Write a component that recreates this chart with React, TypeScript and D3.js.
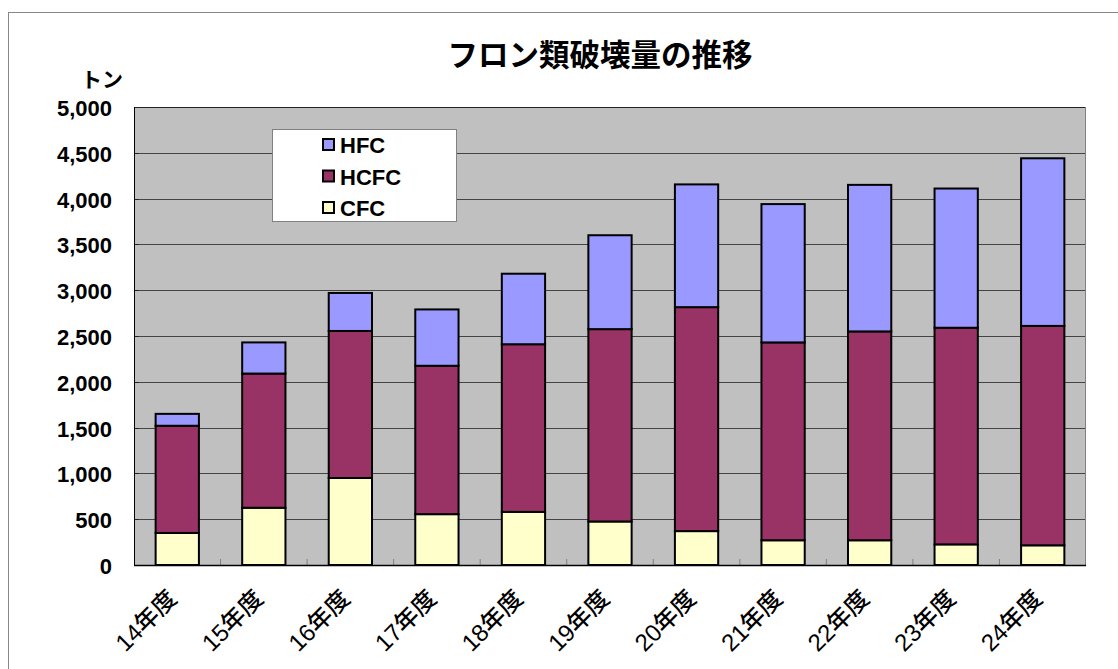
import React from 'react';
import * as d3 from 'd3';

// フロン類破壊量 (トン)
const years = ['14年度', '15年度', '16年度', '17年度', '18年度', '19年度', '20年度', '21年度', '22年度', '23年度', '24年度'];
const cfc = [350, 625, 950, 555, 580, 475, 370, 270, 270, 225, 215];
const hcfc = [1170, 1465, 1605, 1620, 1830, 2100, 2445, 2160, 2280, 2365, 2395];
const hfc = [130, 340, 415, 615, 770, 1025, 1340, 1510, 1600, 1520, 1830];
const seriesNames = ['CFC', 'HCFC', 'HFC'];
const seriesColors = ['#ffffcc', '#993366', '#9999ff'];
const yTicks = [0, 500, 1000, 1500, 2000, 2500, 3000, 3500, 4000, 4500, 5000];

const W = 1118;
const H = 669;
const plot = { left: 134, top: 107, right: 1086, bottom: 565 };
const font = '"Liberation Sans", "Noto Sans CJK JP", sans-serif';

export default function App() {
  const rows = years.map((y, i) => ({ year: y, CFC: cfc[i], HCFC: hcfc[i], HFC: hfc[i] }));
  const stacked = d3.stack<any>().keys(seriesNames)(rows);

  const x = d3.scaleBand().domain(years).range([plot.left, plot.right]).paddingInner(0.5).paddingOuter(0.25);
  const y = d3.scaleLinear().domain([0, 5000]).range([plot.bottom, plot.top]);
  const step = x.step();

  const legendItems = ['HFC', 'HCFC', 'CFC'];

  return (
    <svg width={W} height={H} style={{ position: 'absolute', left: 0, top: 0, display: 'block', background: '#fff' }}>
      {/* chart frame */}
      <rect x={8.5} y={12.5} width={W} height={H} fill="#fff" stroke="#888" strokeWidth={1} />

      <text x={600} y={66} textAnchor="middle" fontFamily={font} fontWeight="bold" fontSize={30.5}>
        フロン類破壊量の推移
      </text>
      <text x={102} y={87} textAnchor="middle" fontFamily={font} fontWeight="bold" fontSize={21}>
        トン
      </text>

      {/* plot area */}
      <rect x={plot.left} y={plot.top} width={plot.right - plot.left} height={plot.bottom - plot.top} fill="#c0c0c0" />
      {yTicks.slice(1, -1).map((t) => (
        <line key={t} x1={plot.left} x2={plot.right} y1={Math.round(y(t)) + 0.5} y2={Math.round(y(t)) + 0.5} stroke="#444" strokeWidth={1} />
      ))}
      <line x1={plot.left} x2={plot.right} y1={plot.top + 0.5} y2={plot.top + 0.5} stroke="#222" strokeWidth={1} />
      <line x1={plot.right - 0.5} x2={plot.right - 0.5} y1={plot.top} y2={plot.bottom} stroke="#808080" strokeWidth={1} />

      {/* y ticks and labels */}
      {yTicks.map((t) => (
        <g key={t}>
          <line x1={plot.left} x2={plot.left + 5} y1={Math.round(y(t)) + 0.5} y2={Math.round(y(t)) + 0.5} stroke="#222" />
          <text x={112} y={y(t) + 1.5} textAnchor="end" dominantBaseline="central" fontFamily={font} fontWeight="bold" fontSize={22}>
            {d3.format(',')(t)}
          </text>
        </g>
      ))}

      {/* x ticks between categories */}
      {years.map((yr, i) => {
        const bx = plot.left + step * (i + 1);
        return i < years.length - 1 ? (
          <line key={yr} x1={bx} x2={bx} y1={plot.bottom} y2={plot.bottom - 6} stroke="#808080" strokeWidth={1} />
        ) : null;
      })}

      {/* bars */}
      {stacked.map((s, si) => (
        <g key={s.key}>
          {s.map((d, i) => (
            <rect
              key={i}
              x={x(years[i])}
              y={y(d[1])}
              width={x.bandwidth()}
              height={y(d[0]) - y(d[1])}
              fill={seriesColors[si]}
              stroke="#000"
              strokeWidth={2}
            />
          ))}
        </g>
      ))}

      {/* axes */}
      <line x1={plot.left + 0.5} x2={plot.left + 0.5} y1={plot.top} y2={plot.bottom} stroke="#000" strokeWidth={1} />
      <line x1={plot.left} x2={plot.right} y1={plot.bottom + 0.5} y2={plot.bottom + 0.5} stroke="#000" strokeWidth={1.5} />

      {/* x labels */}
      {years.map((yr) => {
        const cx = (x(yr) as number) + x.bandwidth() / 2 + 1;
        const cy = 600;
        return (
          <text key={yr} x={cx} y={cy} textAnchor="end" transform={`rotate(-45, ${cx}, ${cy})`} fontFamily={font} fontWeight={500} fontSize={24}>
            {yr}
          </text>
        );
      })}

      {/* legend */}
      <rect x={272.5} y={129.5} width={184} height={92} fill="#fff" stroke="#808080" strokeWidth={1} />
      {legendItems.map((name, i) => {
        const cy = 144.5 + i * 31.5;
        const color = seriesColors[seriesNames.indexOf(name)];
        return (
          <g key={name}>
            <rect x={323} y={cy - 5.5} width={11} height={11} fill={color} stroke="#000" strokeWidth={2} />
            <text x={340} y={cy + 1} dominantBaseline="central" fontFamily={font} fontWeight="bold" fontSize={22}>
              {name}
            </text>
          </g>
        );
      })}
    </svg>
  );
}
